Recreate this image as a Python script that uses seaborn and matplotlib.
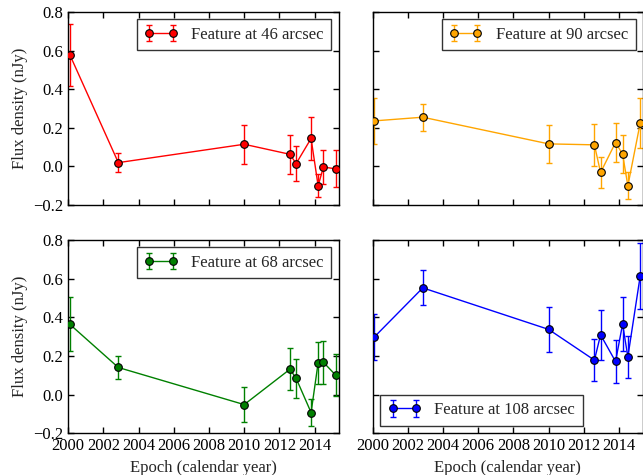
import matplotlib
matplotlib.use("Agg")
import matplotlib.pyplot as plt
from matplotlib.legend_handler import HandlerTuple
import seaborn as sns

# epochs shared by all four features (calendar year)
epochs = [2000.1, 2002.85, 2010.0, 2012.6, 2012.95, 2013.8, 2014.2, 2014.5, 2015.2]

flux_46 = [0.577, 0.02, 0.115, 0.063, 0.015, 0.145, -0.10, -0.003, -0.012]
err_46 = [0.16, 0.05, 0.10, 0.10, 0.09, 0.11, 0.06, 0.09, 0.095]

flux_90 = [0.236, 0.255, 0.117, 0.112, -0.031, 0.124, 0.064, -0.10, 0.224]
err_90 = [0.12, 0.07, 0.10, 0.11, 0.08, 0.10, 0.10, 0.07, 0.13]

flux_68 = [0.363, 0.14, -0.052, 0.131, 0.084, -0.093, 0.164, 0.167, 0.10]
err_68 = [0.14, 0.062, 0.09, 0.11, 0.10, 0.07, 0.11, 0.11, 0.11]

flux_108 = [0.298, 0.552, 0.337, 0.178, 0.309, 0.171, 0.364, 0.195, 0.613]
err_108 = [0.12, 0.09, 0.115, 0.11, 0.13, 0.11, 0.14, 0.11, 0.17]

features = [
    ("Feature at 46 arcsec", flux_46, err_46, "red", "upper right"),
    ("Feature at 90 arcsec", flux_90, err_90, "orange", "upper right"),
    ("Feature at 68 arcsec", flux_68, err_68, "green", "upper right"),
    ("Feature at 108 arcsec", flux_108, err_108, "blue", "lower left"),
]

fs = 12

sns.set_style("ticks", {"xtick.direction": "in", "ytick.direction": "in",
                        "axes.edgecolor": "black"})
plt.rcParams["font.family"] = ["Liberation Serif", "DejaVu Serif"]
plt.rcParams["font.size"] = fs
plt.rcParams["axes.unicode_minus"] = True

fig, axes = plt.subplots(2, 2, figsize=(6.43, 4.75), dpi=100, sharex=True, sharey=True)
fig.subplots_adjust(left=0.106, right=1.0, top=0.975, bottom=0.088, wspace=0.126, hspace=0.18)

for ax, (label, flux, err, col, loc) in zip(axes.flat, features):
    eb = ax.errorbar(epochs, flux, yerr=err, fmt="none", ecolor=col,
                     elinewidth=1, capsize=2.2, capthick=1, zorder=2)
    sns.lineplot(x=epochs, y=flux, color=col, marker="o", markersize=5.5,
                 markeredgecolor="black", markeredgewidth=0.8, linewidth=1,
                 sort=False, ax=ax, legend=False, zorder=3)
    line = ax.lines[-1]
    leg = ax.legend([(eb, line)], [label], loc=loc, numpoints=2,
                    handler_map={tuple: HandlerTuple(ndivide=1)},
                    fancybox=False, frameon=True, fontsize=fs,
                    handlelength=2.0, borderpad=0.45, borderaxespad=0.45)
    leg.get_frame().set_edgecolor("black")
    leg.get_frame().set_linewidth(1)
    ax.tick_params(top=True, right=True, length=4, width=1, labelsize=fs,
                   colors="black")
    for sp in ax.spines.values():
        sp.set_visible(True)
        sp.set_linewidth(1)

ax0 = axes[0, 0]
ax0.set_xlim(2000, 2015.36)
ax0.set_ylim(-0.2, 0.8)
ax0.set_xticks([2000, 2002, 2004, 2006, 2008, 2010, 2012, 2014])
ax0.set_yticks([-0.2, 0.0, 0.2, 0.4, 0.6, 0.8])
ax0.set_yticklabels(["\u22120.2", "0.0", "0.2", "0.4", "0.6", "0.8"])

for ax in axes[:, 0]:
    ax.set_ylabel("Flux density (nJy)", fontsize=fs)
for ax in axes[1, :]:
    ax.set_xlabel("Epoch (calendar year)", fontsize=fs)

fig.savefig("out.png", dpi=100)
